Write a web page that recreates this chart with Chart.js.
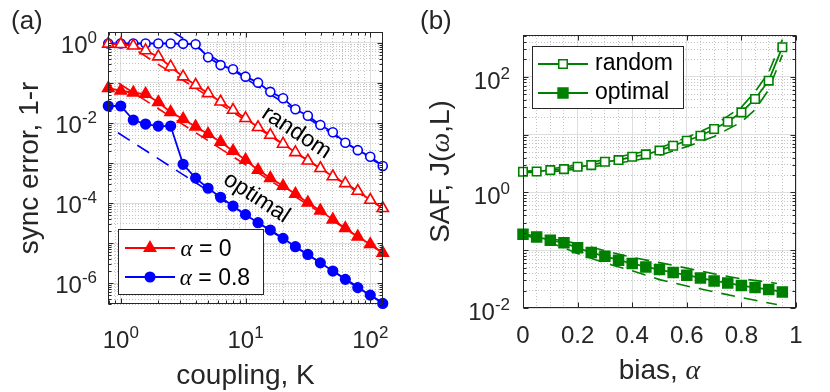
<!DOCTYPE html>
<html>
<head>
<meta charset="utf-8">
<title>sync error and SAF</title>
<script src="https://cdn.jsdelivr.net/npm/chart.js@4.4.1/dist/chart.umd.min.js"></script>
<style>
  body { margin: 0; background: #fff; }
  #fig { position: relative; width: 830px; height: 392px; }
  #fig canvas { position: absolute; top: 0; }
</style>
</head>
<body>
<div id="fig">
  <canvas id="panelA" width="415" height="392" style="left:0"></canvas>
  <canvas id="panelB" width="415" height="392" style="left:415px"></canvas>
</div>
<script>
// ---------- (a) sync error vs coupling ----------
const coupling = [0.794, 1.0, 1.26, 1.58, 2.0, 2.51, 3.16, 3.98, 5.01, 6.31, 7.94, 10.0,
  12.6, 15.8, 20.0, 25.1, 31.6, 39.8, 50.1, 63.1, 79.4, 100, 125.9];
const errRandomA0 = [0.95, 0.93, 0.85, 0.65, 0.455, 0.255, 0.144, 0.089, 0.055, 0.034, 0.0211,
  0.0131, 0.0078, 0.005, 0.003, 0.00185, 0.00114, 0.00074, 0.00046, 0.00031, 0.0002, 0.000119, 0.000074];
const errOptimalA0 = [0.074, 0.064, 0.057, 0.053, 0.033, 0.0186, 0.0126, 0.0081, 0.0053, 0.00335,
  0.002, 0.00119, 0.00067, 0.00042, 0.000266, 0.000168, 0.000102, 0.0000646, 0.0000385,
  0.0000234, 0.0000144, 0.0000093, 0.0000057];
const errRandomA8 = [0.97, 0.97, 0.97, 0.97, 0.97, 0.97, 0.95, 0.93, 0.44, 0.28, 0.22, 0.144,
  0.102, 0.06, 0.0415, 0.022, 0.0152, 0.0089, 0.0059, 0.0032, 0.0021, 0.00144, 0.00084];
const errOptimalA8 = [0.0266, 0.0266, 0.0119, 0.0094, 0.0084, 0.0084, 0.00093, 0.00042, 0.000234,
  0.000139, 0.0000841, 0.0000513, 0.0000323, 0.0000211, 0.0000131, 0.0000081, 0.0000052,
  0.0000032, 0.000002, 0.00000124, 0.00000077, 0.0000005, 0.00000031];
// dashed guide lines, end points [K, error]
const guideRandomA0 = [[0.97, 1.24], [125.9, 0.000074]];
const guideOptimalA0 = [[0.96, 0.099], [125.9, 0.0000057]];
const guideRandomA8 = [[2.55, 2.0], [125.9, 0.00083]];
const guideOptimalA8 = [[0.95, 0.0057], [125.9, 0.00000032]];
const xTickExpA = [0, 1, 2];
const yTickExpA = [0, -2, -4, -6];

// ---------- (b) SAF vs bias ----------
const bias = [0, 0.05, 0.1, 0.15, 0.2, 0.25, 0.3, 0.35, 0.4, 0.45, 0.5, 0.55, 0.6, 0.65, 0.7,
  0.75, 0.8, 0.85, 0.9, 0.95];
const safRandom = [2.28, 2.3, 2.43, 2.53, 2.78, 2.97, 3.39, 3.63, 4.14, 4.56, 5.3, 6.43, 7.84,
  9.56, 12.5, 16.7, 24.3, 41.4, 85.9, 326];
const safOptimal = [0.189, 0.17, 0.149, 0.134, 0.11, 0.0912, 0.0787, 0.0671, 0.0589, 0.0513,
  0.0463, 0.0411, 0.0369, 0.0331, 0.0294, 0.0271, 0.0244, 0.0226, 0.0209, 0.019];
const bandBiasRandom = [0, 0.1, 0.2, 0.3, 0.4, 0.5, 0.6, 0.7, 0.8, 0.85, 0.9, 0.95];
const safRandomHi = [2.3, 2.55, 3.0, 3.7, 4.6, 5.9, 8.9, 14.5, 30, 55, 120, 440];
const safRandomLo = [2.2, 2.27, 2.53, 3.0, 3.5, 4.4, 6.2, 9.3, 16.5, 27, 60, 240];
const bandBiasOptimal = [0, 0.1, 0.2, 0.3, 0.4, 0.5, 0.6, 0.7, 0.8, 0.9, 0.93];
const safOptimalHi = [0.19, 0.16, 0.13, 0.098, 0.075, 0.061, 0.049, 0.039, 0.032, 0.028, 0.0265];
const safOptimalLo = [0.185, 0.135, 0.088, 0.06, 0.044, 0.031, 0.024, 0.019, 0.0152, 0.0122, 0.0115];
const xTickValsB = [0, 0.2, 0.4, 0.6, 0.8, 1];
const xTickLabelsB = ['0', '0.2', '0.4', '0.6', '0.8', '1'];
const yTickExpB = [2, 0, -2];

// ---------- helpers ----------
const SANS = '"Liberation Sans", Arial, Helvetica, sans-serif';
const SERIF = '"Liberation Serif", "DejaVu Serif", serif';
const INK = '#262626';
const RED = '#ff0000', BLUE = '#0000ff', GREEN = '#008000';

const xy = (xs, ys) => xs.map((x, i) => ({ x, y: ys[i] }));
const pts = pairs => pairs.map(p => ({ x: p[0], y: p[1] }));
const isDecade = v => Math.abs(Math.log10(v) - Math.round(Math.log10(v))) < 1e-6;

function logTicks(lo, hi) {
  const out = [];
  for (let e = Math.floor(Math.log10(lo)); e <= Math.ceil(Math.log10(hi)); e++) {
    for (let k = 1; k <= 9; k++) {
      const v = k * Math.pow(10, e);
      if (v >= lo && v <= hi) out.push({ value: v });
    }
  }
  return out;
}

function gridOpts(major) {
  return {
    drawTicks: false,
    lineWidth: 1,
    color: c => (!c.tick || major(c.tick.value)) ? '#dedede' : '#c4c4c4'
  };
}
function borderOpts(major) {
  return { display: false, dash: c => (!c.tick || major(c.tick.value)) ? [] : [1, 2] };
}

function pow10(ctx, exp, x, y, align) {
  ctx.font = '24px ' + SANS;
  const w1 = ctx.measureText('10').width;
  ctx.font = '17px ' + SANS;
  const e = String(exp);
  const w2 = ctx.measureText(e).width;
  const x0 = align === 'center' ? x - (w1 + w2) / 2 : x - w1 - w2;
  ctx.textAlign = 'left';
  ctx.textBaseline = 'alphabetic';
  ctx.font = '24px ' + SANS;
  ctx.fillText('10', x0, y);
  ctx.font = '17px ' + SANS;
  ctx.fillText(e, x0 + w1, y - 10);
}

function rich(ctx, parts, x, y, angle) {
  let total = 0;
  parts.forEach(p => { ctx.font = p[1]; total += ctx.measureText(p[0]).width; });
  ctx.save();
  ctx.translate(x, y);
  ctx.rotate(angle);
  ctx.textAlign = 'left';
  ctx.textBaseline = 'alphabetic';
  let cx = -total / 2;
  parts.forEach(p => { ctx.font = p[1]; ctx.fillText(p[0], cx, 0); cx += ctx.measureText(p[0]).width; });
  ctx.restore();
}

function frame(chart, xMajor, yMajor, xMinorLen) {
  const { ctx, chartArea: a } = chart;
  const xs = chart.scales.x, ys = chart.scales.y;
  const L = Math.round(a.left) + 0.5, R = Math.round(a.right) - 0.5;
  const T = Math.round(a.top) + 0.5, B = Math.round(a.bottom) - 0.5;
  ctx.save();
  ctx.strokeStyle = INK;
  ctx.lineWidth = 1;
  ctx.beginPath();
  xs.ticks.forEach(t => {
    const px = Math.round(xs.getPixelForValue(t.value)) + 0.5;
    const n = xMajor(t.value) ? 5 : xMinorLen;
    if (!n) return;
    ctx.moveTo(px, B); ctx.lineTo(px, B - n);
    ctx.moveTo(px, T); ctx.lineTo(px, T + n);
  });
  ys.ticks.forEach(t => {
    const py = Math.round(ys.getPixelForValue(t.value)) + 0.5;
    const n = yMajor(t.value) ? 5 : 3;
    ctx.moveTo(L, py); ctx.lineTo(L + n, py);
    ctx.moveTo(R, py); ctx.lineTo(R - n, py);
  });
  ctx.stroke();
  ctx.strokeRect(L, T, R - L, B - T);
  ctx.restore();
}

function marker(ctx, shape, x, y, r, color, filled) {
  ctx.beginPath();
  if (shape === 'circle') ctx.arc(x, y, r, 0, Math.PI * 2);
  else if (shape === 'triangle') {
    ctx.moveTo(x, y - r);
    ctx.lineTo(x + r * 0.866, y + r * 0.5);
    ctx.lineTo(x - r * 0.866, y + r * 0.5);
    ctx.closePath();
  } else ctx.rect(x - r * 0.707, y - r * 0.707, r * 1.414, r * 1.414);
  ctx.fillStyle = filled ? color : '#fff';
  ctx.fill();
  ctx.lineWidth = 1.5;
  ctx.strokeStyle = color;
  ctx.stroke();
}

function legendRow(ctx, x0, x1, y, color, shape, r, filled) {
  ctx.strokeStyle = color;
  ctx.lineWidth = 1.8;
  ctx.beginPath();
  ctx.moveTo(x0, y); ctx.lineTo(x1, y);
  ctx.stroke();
  marker(ctx, shape, (x0 + x1) / 2, y, r, color, filled);
}

function legendBox(ctx, x, y, w, h) {
  ctx.fillStyle = '#fff';
  ctx.fillRect(x, y, w, h);
  ctx.strokeStyle = INK;
  ctx.lineWidth = 1;
  ctx.strokeRect(x + 0.5, y + 0.5, w, h);
}

function lineSet(data, color, extra) {
  return Object.assign({
    data, showLine: true, borderColor: color, backgroundColor: color,
    borderWidth: 1.8, pointBorderWidth: 1.6, pointBorderColor: color, clip: false, order: 1
  }, extra);
}
function dashSet(data, color) {
  return {
    data, showLine: true, borderColor: color, borderWidth: 1.6, borderDash: [14, 9],
    pointRadius: 0, clip: 0, order: 3
  };
}

const common = {
  responsive: false,
  animation: false,
  events: [],
  plugins: { legend: { display: false }, tooltip: { enabled: false } }
};

// ---------- panel (a) ----------
const xMinA = 0.79, xMaxA = 126.5, yMinA = 3e-7, yMaxA = 1.88;

const drawA = {
  id: 'drawA',
  afterDraw(chart) {
    const ctx = chart.ctx;
    const xs = chart.scales.x, ys = chart.scales.y;
    frame(chart, isDecade, isDecade, 3);
    ctx.save();
    ctx.fillStyle = INK;
    xTickExpA.forEach(e => pow10(ctx, e, xs.getPixelForValue(Math.pow(10, e)), 348, 'center'));
    yTickExpA.forEach(e => pow10(ctx, e, 97, ys.getPixelForValue(Math.pow(10, e)) + 10, 'right'));
    // axis titles
    rich(ctx, [['coupling, K', '28px ' + SANS]], (chart.chartArea.left + chart.chartArea.right) / 2, 384, 0);
    rich(ctx, [['sync error, 1-r', '28px ' + SANS]], 38, (chart.chartArea.top + chart.chartArea.bottom) / 2, -Math.PI / 2);
    // panel tag
    ctx.font = '26px ' + SANS;
    ctx.textAlign = 'left';
    ctx.fillText('(a)', 11, 29);
    // curve annotations
    ctx.fillStyle = '#000';
    rich(ctx, [['random', '23px ' + SANS]], 293, 138, 0.58);
    rich(ctx, [['optimal', '23px ' + SANS]], 253, 203, 0.58);
    // legend
    legendBox(ctx, 118, 229, 145, 65);
    legendRow(ctx, 125, 175, 248, RED, 'triangle', 6.5, true);
    legendRow(ctx, 125, 175, 277, BLUE, 'circle', 4.8, true);
    ctx.fillStyle = '#000';
    rich(ctx, [['\u03b1', 'italic 23px ' + SERIF], [' = 0', '23px ' + SANS]], 206, 256, 0);
    rich(ctx, [['\u03b1', 'italic 23px ' + SERIF], [' = 0.8', '23px ' + SANS]], 215, 285, 0);
    ctx.restore();
  }
};

new Chart(document.getElementById('panelA'), {
  type: 'scatter',
  data: {
    datasets: [
      lineSet(xy(coupling, errOptimalA0), RED, { pointStyle: 'triangle', pointRadius: 6.5 }),
      lineSet(xy(coupling, errOptimalA8), BLUE, { pointStyle: 'circle', pointRadius: 4.8 }),
      lineSet(xy(coupling, errRandomA0), RED, { pointStyle: 'triangle', pointRadius: 6.5, backgroundColor: '#fff' }),
      lineSet(xy(coupling, errRandomA8), BLUE, { pointStyle: 'circle', pointRadius: 4.5, backgroundColor: '#fff' }),
      dashSet(pts(guideRandomA0), RED),
      dashSet(pts(guideOptimalA0), RED),
      dashSet(pts(guideRandomA8), BLUE),
      dashSet(pts(guideOptimalA8), BLUE)
    ]
  },
  options: Object.assign({}, common, {
    layout: { padding: { left: 108, right: 32, top: 32, bottom: 88 } },
    scales: {
      x: {
        type: 'logarithmic', min: xMinA, max: xMaxA,
        afterBuildTicks: s => { s.ticks = logTicks(xMinA, xMaxA); },
        ticks: { display: false }, grid: gridOpts(isDecade), border: borderOpts(isDecade)
      },
      y: {
        type: 'logarithmic', min: yMinA, max: yMaxA,
        afterBuildTicks: s => { s.ticks = logTicks(yMinA, yMaxA); },
        ticks: { display: false }, grid: gridOpts(isDecade), border: borderOpts(isDecade)
      }
    }
  }),
  plugins: [drawA]
});

// ---------- panel (b) ----------
const yMinB = 0.01, yMaxB = 530;
const isFifth = v => Math.abs(v * 5 - Math.round(v * 5)) < 1e-6;

const drawB = {
  id: 'drawB',
  afterDraw(chart) {
    const ctx = chart.ctx;
    const xs = chart.scales.x, ys = chart.scales.y;
    frame(chart, isFifth, isDecade, 0);
    ctx.save();
    ctx.fillStyle = INK;
    ctx.font = '24px ' + SANS;
    ctx.textAlign = 'center';
    ctx.textBaseline = 'alphabetic';
    xTickValsB.forEach((v, i) => ctx.fillText(xTickLabelsB[i], xs.getPixelForValue(v), 343));
    yTickExpB.forEach(e => pow10(ctx, e, 95, ys.getPixelForValue(Math.pow(10, e)) + 12, 'right'));
    rich(ctx, [['bias, ', '28px ' + SANS], ['\u03b1', 'italic 28px ' + SERIF]],
      (chart.chartArea.left + chart.chartArea.right) / 2, 379, 0);
    rich(ctx, [['SAF, J(', '28px ' + SANS], ['\u03c9', 'italic 28px ' + SERIF], [',L)', '28px ' + SANS]],
      34, (chart.chartArea.top + chart.chartArea.bottom) / 2, -Math.PI / 2);
    ctx.font = '26px ' + SANS;
    ctx.textAlign = 'left';
    ctx.fillText('(b)', 5, 29);
    // legend
    legendBox(ctx, 117, 46, 151, 62);
    legendRow(ctx, 123, 173, 64, GREEN, 'rect', 6, false);
    legendRow(ctx, 123, 173, 93, GREEN, 'rect', 7, true);
    ctx.fillStyle = '#000';
    ctx.font = '23px ' + SANS;
    ctx.textAlign = 'left';
    ctx.textBaseline = 'middle';
    ctx.fillText('random', 180, 64);
    ctx.fillText('optimal', 180, 93);
    ctx.restore();
  }
};

const biasTicks = [];
for (let i = 0; i <= 20; i++) biasTicks.push({ value: i / 20 });

new Chart(document.getElementById('panelB'), {
  type: 'scatter',
  data: {
    datasets: [
      lineSet(xy(bias, safRandom), GREEN, { pointStyle: 'rect', pointRadius: 6, backgroundColor: '#fff' }),
      lineSet(xy(bias, safOptimal), GREEN, { pointStyle: 'rect', pointRadius: 7 }),
      dashSet(xy(bandBiasRandom, safRandomHi), GREEN),
      dashSet(xy(bandBiasRandom, safRandomLo), GREEN),
      dashSet(xy(bandBiasOptimal, safOptimalHi), GREEN),
      dashSet(xy(bandBiasOptimal, safOptimalLo), GREEN)
    ]
  },
  options: Object.assign({}, common, {
    layout: { padding: { left: 108, right: 34, top: 35, bottom: 84 } },
    scales: {
      x: {
        type: 'linear', min: 0, max: 1,
        afterBuildTicks: s => { s.ticks = biasTicks.slice(); },
        ticks: { display: false }, grid: gridOpts(isFifth), border: borderOpts(isFifth)
      },
      y: {
        type: 'logarithmic', min: yMinB, max: yMaxB,
        afterBuildTicks: s => { s.ticks = logTicks(yMinB, yMaxB); },
        ticks: { display: false }, grid: gridOpts(isDecade), border: borderOpts(isDecade)
      }
    }
  }),
  plugins: [drawB]
});
</script>
</body>
</html>
